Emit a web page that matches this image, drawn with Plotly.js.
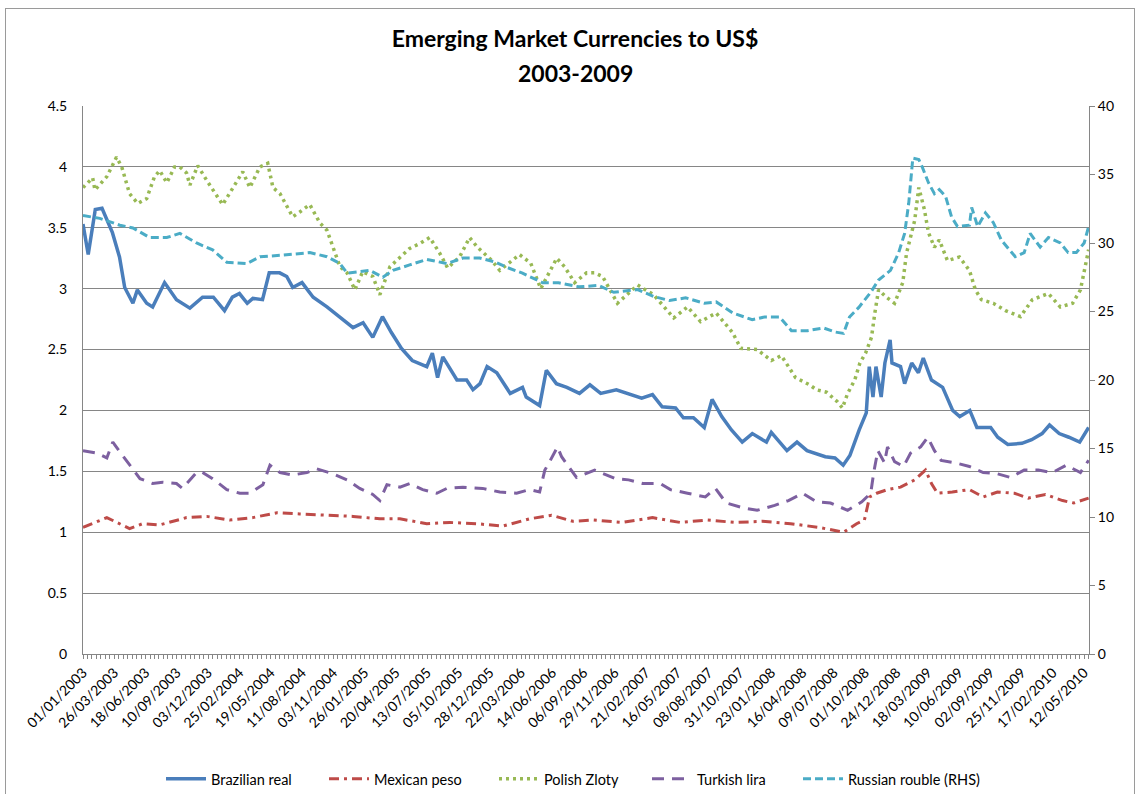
<!DOCTYPE html>
<html>
<head>
<meta charset="utf-8">
<script src="https://cdn.plot.ly/plotly-3.0.1.min.js"></script>
<style>
  html, body { margin: 0; padding: 0; background: #ffffff; }
  #wrap { position: relative; width: 1139px; height: 794px; overflow: hidden; }
  #chart { position: absolute; left: 0; top: 0; width: 1139px; height: 794px; }
  #frame { position: absolute; left: 5px; top: 8px; width: 1128px; height: 800px; border: 1px solid #9a9a9a; pointer-events: none; }
</style>
</head>
<body>
<div id="wrap">
  <div id="chart"></div>
  <div id="frame"></div>
</div>
<script>
// ---------- Tick labels (category axis, every 60 trading days) ----------
const tickLabels = ["01/01/2003","26/03/2003","18/06/2003","10/09/2003","03/12/2003","25/02/2004","19/05/2004","11/08/2004","03/11/2004","26/01/2005","20/04/2005","13/07/2005","05/10/2005","28/12/2005","22/03/2006","14/06/2006","06/09/2006","29/11/2006","21/02/2007","16/05/2007","08/08/2007","31/10/2007","23/01/2008","16/04/2008","09/07/2008","01/10/2008","24/12/2008","18/03/2009","10/06/2009","02/09/2009","25/11/2009","17/02/2010","12/05/2010"];

// ---------- Brazilian real (LHS) ----------
const brlDates = ["2003-01-01","2003-01-15","2003-02-03","2003-02-21","2003-03-21","2003-04-09","2003-04-23","2003-05-15","2003-05-27","2003-06-21","2003-07-07","2003-08-08","2003-09-09","2003-10-15","2003-11-18","2003-12-17","2004-01-16","2004-02-06","2004-02-25","2004-03-17","2004-04-01","2004-04-27","2004-05-15","2004-06-12","2004-07-01","2004-07-17","2004-08-11","2004-09-10","2004-10-17","2004-11-29","2004-12-26","2005-01-22","2005-02-17","2005-03-15","2005-04-08","2005-05-05","2005-06-03","2005-07-12","2005-07-27","2005-08-10","2005-08-24","2005-10-01","2005-10-27","2005-11-13","2005-12-02","2005-12-21","2006-01-16","2006-02-21","2006-03-26","2006-04-05","2006-05-11","2006-05-29","2006-06-25","2006-07-23","2006-08-26","2006-09-23","2006-10-22","2006-12-03","2007-01-04","2007-02-09","2007-03-10","2007-04-05","2007-05-11","2007-06-01","2007-06-28","2007-07-27","2007-08-17","2007-09-12","2007-10-08","2007-11-06","2007-12-03","2008-01-10","2008-01-23","2008-03-05","2008-04-01","2008-04-28","2008-06-16","2008-07-12","2008-08-03","2008-08-21","2008-09-15","2008-10-04","2008-10-12","2008-10-22","2008-10-30","2008-11-13","2008-11-23","2008-12-07","2008-12-12","2009-01-04","2009-01-15","2009-02-03","2009-02-21","2009-03-06","2009-03-28","2009-04-27","2009-05-24","2009-06-12","2009-07-09","2009-07-28","2009-09-03","2009-09-22","2009-10-19","2009-11-26","2009-12-22","2010-01-19","2010-02-08","2010-03-06","2010-04-01","2010-04-30","2010-05-24"];
const brlValues = [3.53,3.28,3.65,3.66,3.46,3.26,3.01,2.88,2.99,2.88,2.85,3.05,2.91,2.84,2.93,2.93,2.82,2.93,2.96,2.88,2.92,2.91,3.13,3.13,3.10,3.01,3.05,2.93,2.85,2.74,2.68,2.72,2.60,2.77,2.64,2.51,2.41,2.36,2.47,2.27,2.44,2.25,2.25,2.17,2.22,2.36,2.31,2.14,2.19,2.11,2.04,2.33,2.22,2.19,2.14,2.21,2.14,2.17,2.14,2.10,2.13,2.03,2.02,1.94,1.94,1.86,2.09,1.95,1.84,1.74,1.81,1.74,1.82,1.67,1.74,1.67,1.62,1.61,1.55,1.63,1.84,1.98,2.36,2.11,2.36,2.11,2.39,2.58,2.39,2.36,2.22,2.39,2.31,2.43,2.25,2.19,2.00,1.95,2.00,1.86,1.86,1.78,1.72,1.73,1.76,1.81,1.88,1.81,1.78,1.74,1.86];

// ---------- Mexican peso (LHS, /10) ----------
const mxnDates = ["2003-01-01","2003-03-06","2003-05-06","2003-06-10","2003-07-26","2003-10-06","2003-11-29","2004-01-30","2004-04-01","2004-06-05","2004-08-05","2004-10-17","2004-12-26","2005-03-08","2005-05-01","2005-07-12","2005-09-12","2005-11-23","2006-02-01","2006-04-14","2006-06-12","2006-08-08","2006-10-03","2006-12-17","2007-03-10","2007-05-24","2007-08-04","2007-10-19","2007-12-30","2008-03-15","2008-05-29","2008-08-04","2008-09-08","2008-09-29","2008-10-13","2008-11-01","2008-11-30","2009-01-04","2009-02-11","2009-03-12","2009-03-28","2009-04-13","2009-05-23","2009-07-08","2009-08-14","2009-09-21","2009-11-06","2009-12-13","2010-01-28","2010-03-15","2010-04-14","2010-05-24"];
const mxnValues = [1.04,1.12,1.03,1.07,1.06,1.12,1.13,1.10,1.12,1.16,1.15,1.14,1.13,1.11,1.11,1.07,1.08,1.07,1.05,1.11,1.14,1.09,1.10,1.08,1.12,1.08,1.10,1.08,1.09,1.07,1.04,1.00,1.07,1.10,1.29,1.32,1.35,1.37,1.43,1.51,1.40,1.32,1.33,1.35,1.29,1.33,1.32,1.28,1.31,1.26,1.24,1.28];

// ---------- Polish Zloty (LHS) ----------
const plnDates = ["2003-01-01","2003-01-27","2003-02-02","2003-03-06","2003-04-01","2003-04-15","2003-05-06","2003-05-28","2003-06-21","2003-07-12","2003-07-26","2003-08-14","2003-09-04","2003-09-18","2003-10-06","2003-10-15","2003-11-05","2003-11-29","2004-01-11","2004-02-07","2004-03-05","2004-03-24","2004-04-20","2004-05-11","2004-05-25","2004-06-13","2004-07-17","2004-08-05","2004-09-01","2004-09-28","2004-10-17","2004-11-21","2004-12-10","2004-12-31","2005-01-21","2005-02-17","2005-03-08","2005-04-04","2005-05-01","2005-05-27","2005-06-23","2005-07-20","2005-08-16","2005-09-06","2005-10-08","2005-11-04","2005-11-25","2006-01-03","2006-01-24","2006-03-18","2006-04-17","2006-05-14","2006-06-26","2006-07-17","2006-08-13","2006-09-14","2006-10-06","2006-10-27","2006-12-06","2007-01-29","2007-03-13","2007-05-06","2007-06-12","2007-07-17","2007-08-28","2007-10-11","2007-11-02","2007-12-16","2008-01-23","2008-02-19","2008-03-09","2008-03-28","2008-05-05","2008-05-23","2008-06-19","2008-07-19","2008-08-01","2008-08-15","2008-09-03","2008-09-17","2008-10-02","2008-10-18","2008-10-27","2008-11-06","2008-11-27","2008-12-19","2009-01-10","2009-01-20","2009-02-11","2009-02-22","2009-03-09","2009-03-20","2009-04-05","2009-04-18","2009-05-10","2009-06-11","2009-07-08","2009-07-24","2009-08-09","2009-09-10","2009-10-13","2009-11-22","2009-12-24","2010-02-05","2010-03-09","2010-04-11","2010-05-02","2010-05-24"];
const plnValues = [3.83,3.91,3.81,3.92,4.08,4.00,3.78,3.70,3.74,3.92,3.97,3.87,4.00,4.00,3.95,3.85,4.01,3.89,3.69,3.83,3.96,3.83,4.00,4.03,3.83,3.78,3.59,3.63,3.69,3.54,3.48,3.18,3.13,2.99,3.14,3.10,2.95,3.18,3.26,3.33,3.37,3.42,3.29,3.17,3.26,3.42,3.34,3.23,3.15,3.28,3.21,3.00,3.25,3.18,3.05,3.13,3.13,3.10,2.88,3.03,2.95,2.76,2.85,2.73,2.80,2.64,2.51,2.50,2.41,2.45,2.36,2.27,2.21,2.17,2.15,2.07,2.02,2.14,2.25,2.39,2.47,2.60,2.80,2.99,2.93,2.88,3.05,3.29,3.56,3.83,3.65,3.46,3.34,3.40,3.23,3.26,3.15,2.99,2.91,2.88,2.82,2.77,2.91,2.96,2.85,2.88,2.99,3.32];

// ---------- Turkish lira (LHS) ----------
const tryDates = ["2003-01-01","2003-02-07","2003-03-06","2003-03-22","2003-04-10","2003-05-06","2003-06-03","2003-07-07","2003-08-03","2003-09-09","2003-09-25","2003-11-02","2003-11-18","2003-12-15","2004-01-22","2004-02-26","2004-03-24","2004-04-28","2004-05-17","2004-06-13","2004-07-17","2004-08-24","2004-09-20","2004-11-02","2004-12-10","2005-01-13","2005-02-17","2005-03-08","2005-03-27","2005-05-01","2005-05-27","2005-07-01","2005-08-08","2005-09-04","2005-10-17","2005-12-09","2006-01-24","2006-03-10","2006-04-14","2006-05-11","2006-05-25","2006-06-07","2006-06-28","2006-07-09","2006-07-30","2006-08-18","2006-10-06","2006-12-01","2007-01-05","2007-02-12","2007-03-31","2007-04-27","2007-06-12","2007-07-30","2007-08-26","2007-09-24","2007-11-09","2007-12-16","2008-02-01","2008-03-09","2008-04-16","2008-05-23","2008-06-30","2008-08-15","2008-09-22","2008-10-16","2008-10-24","2008-11-04","2008-11-22","2008-11-30","2008-12-19","2009-01-12","2009-01-31","2009-02-27","2009-03-18","2009-04-05","2009-04-23","2009-05-31","2009-07-08","2009-08-14","2009-09-21","2009-10-26","2009-12-02","2010-01-09","2010-02-16","2010-03-25","2010-05-02","2010-05-24"];
const tryValues = [1.67,1.65,1.61,1.74,1.66,1.55,1.44,1.40,1.41,1.40,1.36,1.49,1.49,1.44,1.35,1.32,1.32,1.39,1.55,1.49,1.47,1.49,1.52,1.48,1.43,1.36,1.31,1.26,1.39,1.37,1.40,1.35,1.32,1.36,1.37,1.36,1.33,1.32,1.35,1.33,1.51,1.58,1.70,1.62,1.53,1.45,1.51,1.44,1.43,1.40,1.40,1.35,1.32,1.29,1.36,1.24,1.20,1.18,1.22,1.26,1.32,1.25,1.24,1.18,1.25,1.32,1.49,1.67,1.57,1.70,1.58,1.54,1.65,1.70,1.78,1.67,1.59,1.57,1.54,1.49,1.48,1.45,1.51,1.51,1.49,1.55,1.49,1.59];

// ---------- Russian rouble (RHS) ----------
const rubDates = ["2003-01-01","2003-02-15","2003-04-10","2003-05-15","2003-06-29","2003-08-14","2003-09-18","2003-11-02","2003-12-15","2004-01-22","2004-03-16","2004-04-20","2004-06-13","2004-07-28","2004-09-01","2004-10-17","2004-11-21","2004-12-10","2005-01-06","2005-02-09","2005-03-16","2005-04-12","2005-05-27","2005-07-12","2005-09-04","2005-10-17","2005-12-01","2006-01-13","2006-02-14","2006-03-26","2006-05-19","2006-07-01","2006-08-24","2006-10-16","2006-11-26","2007-01-29","2007-03-13","2007-04-25","2007-06-07","2007-07-27","2007-08-28","2007-10-11","2007-12-03","2008-01-05","2008-02-14","2008-03-17","2008-04-29","2008-06-11","2008-07-13","2008-08-04","2008-08-20","2008-09-14","2008-10-16","2008-11-06","2008-12-08","2008-12-30","2009-01-15","2009-01-26","2009-02-06","2009-02-22","2009-03-04","2009-03-20","2009-04-05","2009-04-18","2009-05-05","2009-05-21","2009-06-06","2009-07-08","2009-07-14","2009-07-30","2009-08-20","2009-09-10","2009-10-02","2009-11-08","2009-12-02","2009-12-18","2010-01-14","2010-02-05","2010-03-09","2010-03-30","2010-04-21","2010-05-12","2010-05-24"];
const rubValues = [32.0,31.8,31.3,31.1,30.4,30.4,30.7,30.0,29.5,28.6,28.5,29.0,29.1,29.2,29.3,29.0,28.5,27.8,27.9,28.0,27.5,28.0,28.4,28.8,28.5,28.9,28.9,28.6,28.2,27.8,27.1,27.1,26.8,26.9,26.4,26.6,26.1,25.8,26.0,25.6,25.7,24.9,24.4,24.6,24.6,23.6,23.6,23.8,23.5,23.4,24.6,25.3,26.4,27.3,28.0,29.3,30.7,32.9,36.2,36.1,35.5,34.4,33.6,33.9,33.4,31.9,31.2,31.3,32.6,31.2,32.2,31.5,30.2,29.0,29.3,30.7,29.7,30.4,30.0,29.3,29.3,30.0,31.2];

// ---------- build ----------
const FONT = 'Lato, "Open Sans", sans-serif';
function toIso(lbl) { const p = lbl.split('/'); return p[2] + '-' + p[1] + '-' + p[0]; }
const tickVals = tickLabels.map(toIso);

const traces = [
  { name: 'Brazilian real', x: brlDates, y: brlValues, type: 'scatter', mode: 'lines', yaxis: 'y', legend: 'legend',
    line: { color: '#4A7EBB', width: 3.5 } },
  { name: 'Mexican peso', x: mxnDates, y: mxnValues, type: 'scatter', mode: 'lines', yaxis: 'y', legend: 'legend2',
    line: { color: '#BE4B48', width: 3, dash: '10px,5px,3px,5px' } },
  { name: 'Polish Zloty', x: plnDates, y: plnValues, type: 'scatter', mode: 'lines', yaxis: 'y', legend: 'legend3',
    line: { color: '#98B954', width: 3.5, dash: '3px,4px' } },
  { name: 'Turkish lira', x: tryDates, y: tryValues, type: 'scatter', mode: 'lines', yaxis: 'y', legend: 'legend4',
    line: { color: '#7D60A0', width: 3, dash: '12px,8px' } },
  { name: 'Russian rouble (RHS)', x: rubDates, y: rubValues, type: 'scatter', mode: 'lines', yaxis: 'y2', legend: 'legend5',
    line: { color: '#4BACC6', width: 3, dash: '8px,4px' } }
];

function legendAt(px) {
  return {
    orientation: 'h', x: (px - 83) / 1006, xanchor: 'left', y: -0.228, yanchor: 'middle',
    itemwidth: 40, font: { family: FONT, size: 14.5, color: '#000000' }, bgcolor: 'rgba(0,0,0,0)'
  };
}

const layout = {
  width: 1139, height: 794, autosize: false,
  paper_bgcolor: '#ffffff', plot_bgcolor: '#ffffff',
  margin: { l: 83, r: 50, t: 106, b: 140, pad: 0, autoexpand: false },
  font: { family: FONT, color: '#000000', size: 13 },
  title: {
    text: 'Emerging Market Currencies to US$',
    x: 575 / 1139, xref: 'container', xanchor: 'center',
    y: 1 - 39 / 794, yref: 'container', yanchor: 'middle',
    font: { family: FONT, size: 23, weight: 700, color: '#000000' }
  },
  annotations: [{
    text: '2003-2009', showarrow: false,
    xref: 'paper', yref: 'paper',
    x: (575 - 83) / 1006, xanchor: 'center',
    y: 1 + (106 - 73) / 548, yanchor: 'middle',
    font: { family: FONT, size: 23, weight: 700, color: '#000000' }
  }],
  showlegend: true,
  legend: legendAt(161),
  legend2: legendAt(324),
  legend3: legendAt(494),
  legend4: legendAt(647),
  legend5: legendAt(798),
  xaxis: {
    type: 'date', range: ['2003-01-01', '2010-05-25'], automargin: false,
    tickmode: 'array', tickvals: tickVals, ticktext: tickLabels, tickangle: -45,
    tickfont: { family: FONT, size: 14, color: '#000000' },
    ticks: 'outside', ticklen: 4, tickcolor: '#868686', tickwidth: 1,
    minor: { ticks: 'outside', ticklen: 4, tickcolor: '#868686', tickwidth: 1, dtick: 12 * 86400000, tick0: '2003-01-01', showgrid: false },
    showline: true, linecolor: '#868686', linewidth: 1, showgrid: false, zeroline: false, fixedrange: true
  },
  yaxis: {
    range: [0, 4.5], dtick: 0.5, tick0: 0, automargin: false,
    showgrid: true, gridcolor: '#868686', gridwidth: 1,
    showline: true, linecolor: '#868686', linewidth: 1,
    zeroline: false, ticks: '', ticklabelstandoff: 12,
    tickfont: { family: FONT, size: 14, color: '#000000' }, fixedrange: true
  },
  yaxis2: {
    range: [0, 40], dtick: 5, tick0: 0, overlaying: 'y', side: 'right', automargin: false,
    showgrid: false, showline: true, linecolor: '#868686', linewidth: 1,
    zeroline: false, ticks: 'outside', ticklen: 5, tickcolor: '#868686', ticklabelstandoff: 0,
    tickfont: { family: FONT, size: 14, color: '#000000' }, fixedrange: true
  }
};

Plotly.newPlot('chart', traces, layout, { staticPlot: true, displayModeBar: false });
</script>
</body>
</html>
